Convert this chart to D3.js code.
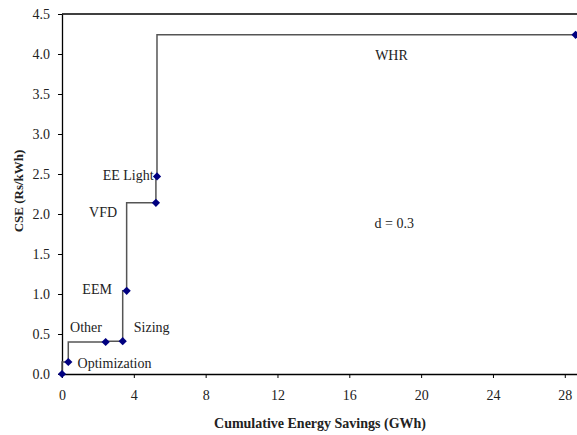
<!DOCTYPE html>
<html>
<head>
<meta charset="utf-8">
<script src="https://cdn.jsdelivr.net/npm/d3@7"></script>
<style>
  body { margin: 0; background: #fff; }
  text { font-family: "Liberation Serif", "Times New Roman", serif; fill: #222; }
</style>
</head>
<body>
<svg width="577" height="435"></svg>
<script>
// measures, in order along the supply curve
const measures = ["", "Optimization", "Other", "Sizing", "EEM", "VFD", "EE Light", "WHR"];
const cumSavings = [0, 0.35, 2.43, 3.38, 3.6, 5.23, 5.29, 28.6];   // GWh
const cse = [0, 0.15, 0.40, 0.41, 1.04, 2.14, 2.47, 4.24];          // Rs/kWh
const xTicks = [0, 4, 8, 12, 16, 20, 24, 28];
const yTicks = [0, 0.5, 1, 1.5, 2, 2.5, 3, 3.5, 4, 4.5];

const svg = d3.select("svg");
const margin = { top: 14, right: 0, bottom: 61, left: 62 };
const width = +svg.attr("width"), height = +svg.attr("height");

const x = d3.scaleLinear().domain([0, 28.68]).range([margin.left, width - margin.right]);
const y = d3.scaleLinear().domain([0, 4.5]).range([height - margin.bottom, margin.top]);

const pts = cumSavings.map((d, i) => ({ x: d, y: cse[i], name: measures[i] }));

// top border
svg.append("line")
    .attr("x1", x(0)).attr("x2", x.range()[1])
    .attr("y1", y(4.5)).attr("y2", y(4.5))
    .attr("stroke", "#000").attr("stroke-width", 1.3);

// axes
const xAxis = svg.append("g")
    .attr("transform", "translate(0," + y(0) + ")")
    .call(d3.axisBottom(x).tickValues(xTicks).tickSize(4).tickSizeOuter(0).tickPadding(12));
const yAxis = svg.append("g")
    .attr("transform", "translate(" + x(0) + ",0)")
    .call(d3.axisLeft(y).tickValues(yTicks).tickSize(4).tickSizeOuter(0).tickPadding(8).tickFormat(d3.format(".1f")));

[xAxis, yAxis].forEach(a => {
    a.attr("font-family", "Liberation Serif, serif").attr("font-size", 14);
    a.select(".domain").attr("stroke", "#000").attr("stroke-width", 1.3);
    a.selectAll(".tick line").attr("stroke", "#000");
    a.selectAll(".tick text").attr("fill", "#222");
});

// step curve
svg.append("path")
    .datum(pts)
    .attr("fill", "none")
    .attr("stroke", "#555")
    .attr("stroke-width", 1.5)
    .attr("d", d3.line().x(d => x(d.x)).y(d => y(d.y)).curve(d3.curveStepBefore));

// diamond markers (rotated squares)
svg.selectAll(".pt")
    .data(pts)
    .join("path")
    .attr("class", "pt")
    .attr("transform", d => "translate(" + x(d.x) + "," + y(d.y) + ") rotate(45)")
    .attr("d", d3.symbol(d3.symbolSquare, 34))
    .attr("fill", "#000080");

// measure labels (position in data units, anchor)
const labelPos = {
    "Optimization": [0.87, 0.08, "start"],
    "Other": [0.45, 0.52, "start"],
    "Sizing": [4.0, 0.52, "start"],
    "EEM": [2.78, 1.0, "end"],
    "VFD": [3.07, 1.96, "end"],
    "EE Light": [5.1, 2.43, "end"],
    "WHR": [18.35, 3.92, "middle"]
};
svg.selectAll(".lab")
    .data(pts.filter(d => labelPos[d.name]))
    .join("text")
    .attr("class", "lab")
    .attr("x", d => x(labelPos[d.name][0]))
    .attr("y", d => y(labelPos[d.name][1]))
    .attr("text-anchor", d => labelPos[d.name][2])
    .style("font-size", "14px")
    .text(d => d.name);

svg.append("text")
    .attr("x", x(18.5)).attr("y", y(1.83))
    .attr("text-anchor", "middle")
    .style("font-size", "14px")
    .text("d = 0.3");

// axis titles
svg.append("text")
    .attr("x", 320).attr("y", 428)
    .attr("text-anchor", "middle")
    .style("font-size", "14px").style("font-weight", "bold")
    .text("Cumulative Energy Savings (GWh)");

svg.append("text")
    .attr("transform", "translate(23,191) rotate(-90)")
    .attr("text-anchor", "middle")
    .style("font-size", "13px").style("font-weight", "bold")
    .text("CSE (Rs/kWh)");
</script>
</body>
</html>
